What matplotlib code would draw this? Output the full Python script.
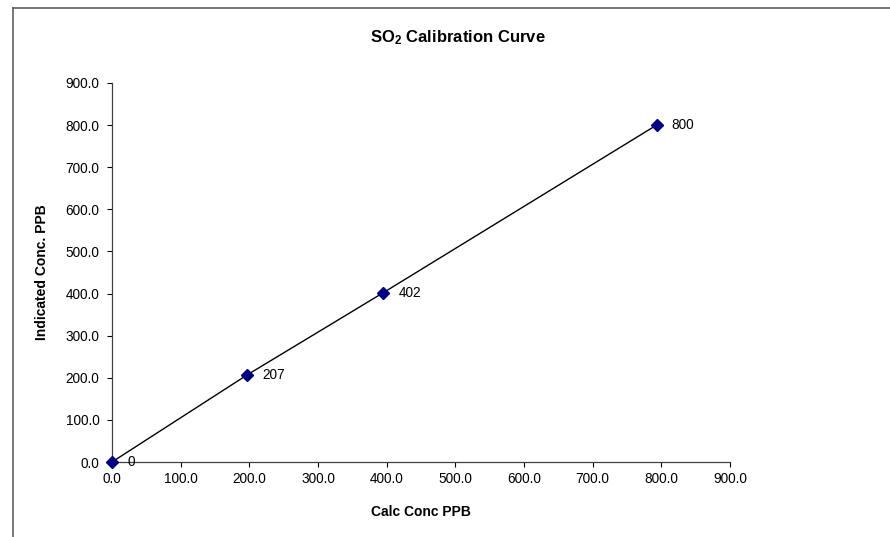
import matplotlib.pyplot as plt
from matplotlib.lines import Line2D

plt.rcParams['font.family'] = ['Liberation Sans', 'DejaVu Sans']
plt.rcParams['mathtext.fontset'] = 'custom'
plt.rcParams['mathtext.rm'] = 'Liberation Sans'
plt.rcParams['mathtext.bf'] = 'Liberation Sans:bold'

# calibration points
calc_conc = [0.0, 197.0, 395.0, 793.0]
indicated = [0.0, 207.0, 402.0, 800.0]
point_labels = ['0', '207', '402', '800']
ticks = [0, 100, 200, 300, 400, 500, 600, 700, 800, 900]

fig = plt.figure(figsize=(8.9, 5.37), dpi=100)
ax = fig.add_axes([112 / 890, 75 / 537, 618 / 890, 379 / 537])

ax.plot(calc_conc, indicated, color='black', linewidth=1.0, zorder=2)
ax.plot(calc_conc, indicated, linestyle='none', marker='D', markersize=6,
        markerfacecolor='#000080', markeredgecolor='#000080', zorder=3,
        clip_on=False)
for x, y, txt in zip(calc_conc, indicated, point_labels):
    ax.annotate(txt, (x, y), xytext=(11, 0), textcoords='offset points',
                ha='left', va='center', fontsize=9.8)

ax.set_xlim(0, 900)
ax.set_ylim(0, 900)
ax.set_xticks(ticks)
ax.set_yticks(ticks)
ax.set_xticklabels([f'{t:.1f}' for t in ticks], fontsize=9.8)
ax.set_yticklabels([f'{t:.1f}' for t in ticks], fontsize=9.8)
ax.tick_params(direction='out', length=3.5, width=0.8, color='black')
ax.tick_params(axis='x', pad=3.5)
ax.tick_params(axis='y', pad=5.5)
for s in ['top', 'right']:
    ax.spines[s].set_visible(False)
for s in ['left', 'bottom']:
    ax.spines[s].set_linewidth(0.9)
    ax.spines[s].set_color('#404040')

ax.set_xlabel('Calc Conc PPB', fontsize=10, fontweight='bold', labelpad=14)
ax.set_ylabel('Indicated Conc. PPB', fontsize=10, fontweight='bold', labelpad=12)

fig.text(458 / 890, 1 - 38 / 537, r'$\mathbf{SO_2}$ Calibration Curve',
         ha='center', va='center', fontsize=12, fontweight='bold')

# chart border (cropped at right and bottom)
bx, by = 13 / 890, 1 - 8 / 537
fig.add_artist(Line2D([bx, 1.0], [by, by], color='#606060', linewidth=1.2))
fig.add_artist(Line2D([bx, bx], [0.0, by], color='#606060', linewidth=1.2))

fig.savefig('out.png', dpi=100, facecolor='white')
